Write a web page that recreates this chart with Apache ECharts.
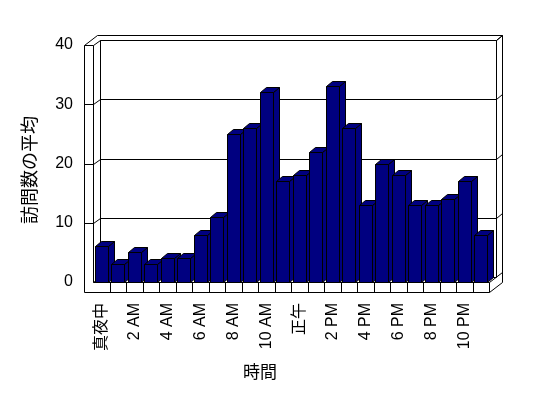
<!DOCTYPE html>
<html><head><meta charset="utf-8">
<script src="https://cdn.jsdelivr.net/npm/echarts@6/dist/echarts.min.js"></script>
<style>html,body{margin:0;padding:0;background:#fff}#c{width:548px;height:398px}</style>
</head><body><div id="c"></div>
<script>
const categories = ['真夜中','1 AM','2 AM','3 AM','4 AM','5 AM','6 AM','7 AM','8 AM','9 AM','10 AM','11 AM',
  '正午','1 PM','2 PM','3 PM','4 PM','5 PM','6 PM','7 PM','8 PM','9 PM','10 PM','11 PM'];
const visits = [6,3,5,3,4,4,8,11,25,26,32,17,18,22,33,26,13,20,18,13,13,14,17,8];
const yTicks = [0,10,20,30,40];
const xTitle = '時間';
const yTitle = '訪問数の平均';

const FONT = "'Liberation Sans', 'Noto Sans CJK JP', sans-serif";
const p = v => Math.round(v) + 0.5;

function renderFrame(params, api) {
  const n = categories.length;
  const bw = api.size([1, 0])[0];
  const L = p(api.coord([0, 0])[0] - bw / 2);
  const R = p(api.coord([n - 1, 0])[0] + bw / 2);
  const yb = p(api.coord([0, 0])[1]);
  const yMax = yTicks[yTicks.length - 1];
  const yt = p(api.coord([0, yMax])[1]);
  const d1 = [7, -5], d2 = [13, -10], W = 9, F = 10;
  const line = {stroke: '#000', lineWidth: 1, fill: 'none'};
  const ch = [];
  const seg = (a, b) => ch.push({type: 'line', shape: {x1: a[0], y1: a[1], x2: b[0], y2: b[1]}, style: line});
  ch.push({type: 'polygon', shape: {points: [
    [L - W, yt], [L - W + d2[0], yt + d2[1]], [R + d2[0], yt + d2[1]],
    [R + d2[0], yb + F + d2[1]], [R, yb + F], [L - W, yb + F]]},
    style: {fill: '#fff', stroke: '#000', lineWidth: 1}});
  ch.push({type: 'rect', shape: {x: L + d1[0], y: yt + d1[1], width: R - L, height: yb - yt},
    style: {fill: '#fff', stroke: '#000', lineWidth: 1}});
  seg([L, yt], [L, yb]);
  seg([L, yb], [L + d1[0], yb + d1[1]]);
  seg([R + d1[0], yt + d1[1]], [R + d2[0], yt + d2[1]]);
  yTicks.forEach(v => {
    if (v === 0) return;
    const y = p(api.coord([0, v])[1]);
    seg([L - W, y], [L, y]);
    seg([L, y], [L + d1[0], y + d1[1]]);
    seg([L + d1[0], y + d1[1]], [R + d1[0], y + d1[1]]);
    seg([R + d1[0], y + d1[1]], [R + d2[0], y + d2[1]]);
  });
  seg([L, yb], [R, yb]);
  seg([R, yb], [R, yb + F]);
  seg([R, yb], [R + d2[0], yb + d2[1]]);
  for (let i = 1; i < n; i++) {
    const x = p(api.coord([i, 0])[0] - bw / 2);
    seg([x, yb], [x, yb + F]);
  }
  return {type: 'group', children: ch};
}

function renderBar(params, api) {
  const i = api.value(0), v = api.value(1);
  const top = api.coord([i, v]);
  const base = api.coord([i, 0]);
  const bw = api.size([1, 0])[0] * 0.8;
  const x0 = p(top[0] - bw / 2), x1 = x0 + Math.round(bw);
  const yt = p(top[1]), yb = p(base[1]);
  const dx = 6, dy = -5;
  const s = {fill: '#000080', stroke: '#000', lineWidth: 1};
  return {type: 'group', children: [
    {type: 'polygon', shape: {points: [[x1, yt], [x1 + dx, yt + dy], [x1 + dx, yb + dy], [x1, yb]]}, style: s},
    {type: 'polygon', shape: {points: [[x0, yt], [x1, yt], [x1 + dx, yt + dy], [x0 + dx, yt + dy]]}, style: s},
    {type: 'rect', shape: {x: x0, y: yt, width: x1 - x0, height: yb - yt}, style: s}
  ]};
}

const chart = echarts.init(document.getElementById('c'), null, {renderer: 'canvas'});
chart.setOption({
  animation: false,
  backgroundColor: '#fff',
  grid: {left: 93, right: 59, top: 45, bottom: 116},
  xAxis: {
    type: 'category', data: categories, boundaryGap: true,
    axisLine: {show: false}, axisTick: {show: false}, splitLine: {show: false},
    axisLabel: {interval: 1, rotate: 90, margin: 21, fontSize: 16, color: '#000', fontFamily: FONT}
  },
  yAxis: {
    type: 'value', min: yTicks[0], max: yTicks[yTicks.length - 1], interval: 10,
    axisLine: {show: false}, axisTick: {show: false}, splitLine: {show: false},
    axisLabel: {margin: 20, fontSize: 16, color: '#000', fontFamily: FONT}
  },
  graphic: [
    {type: 'text', x: 260, y: 373, style: {text: xTitle, fontSize: 17, fill: '#000', fontFamily: FONT, align: 'center', verticalAlign: 'middle'}},
    {type: 'text', x: 31, y: 170, rotation: Math.PI / 2, style: {text: yTitle, fontSize: 18, fill: '#000', fontFamily: FONT, align: 'center', verticalAlign: 'middle'}}
  ],
  series: [
    {type: 'custom', z: 1, silent: true, renderItem: renderFrame, data: [[0, 0]]},
    {type: 'custom', z: 2, silent: true, renderItem: renderBar, data: visits.map((v, i) => [i, v])}
  ]
});
</script>
</body></html>
